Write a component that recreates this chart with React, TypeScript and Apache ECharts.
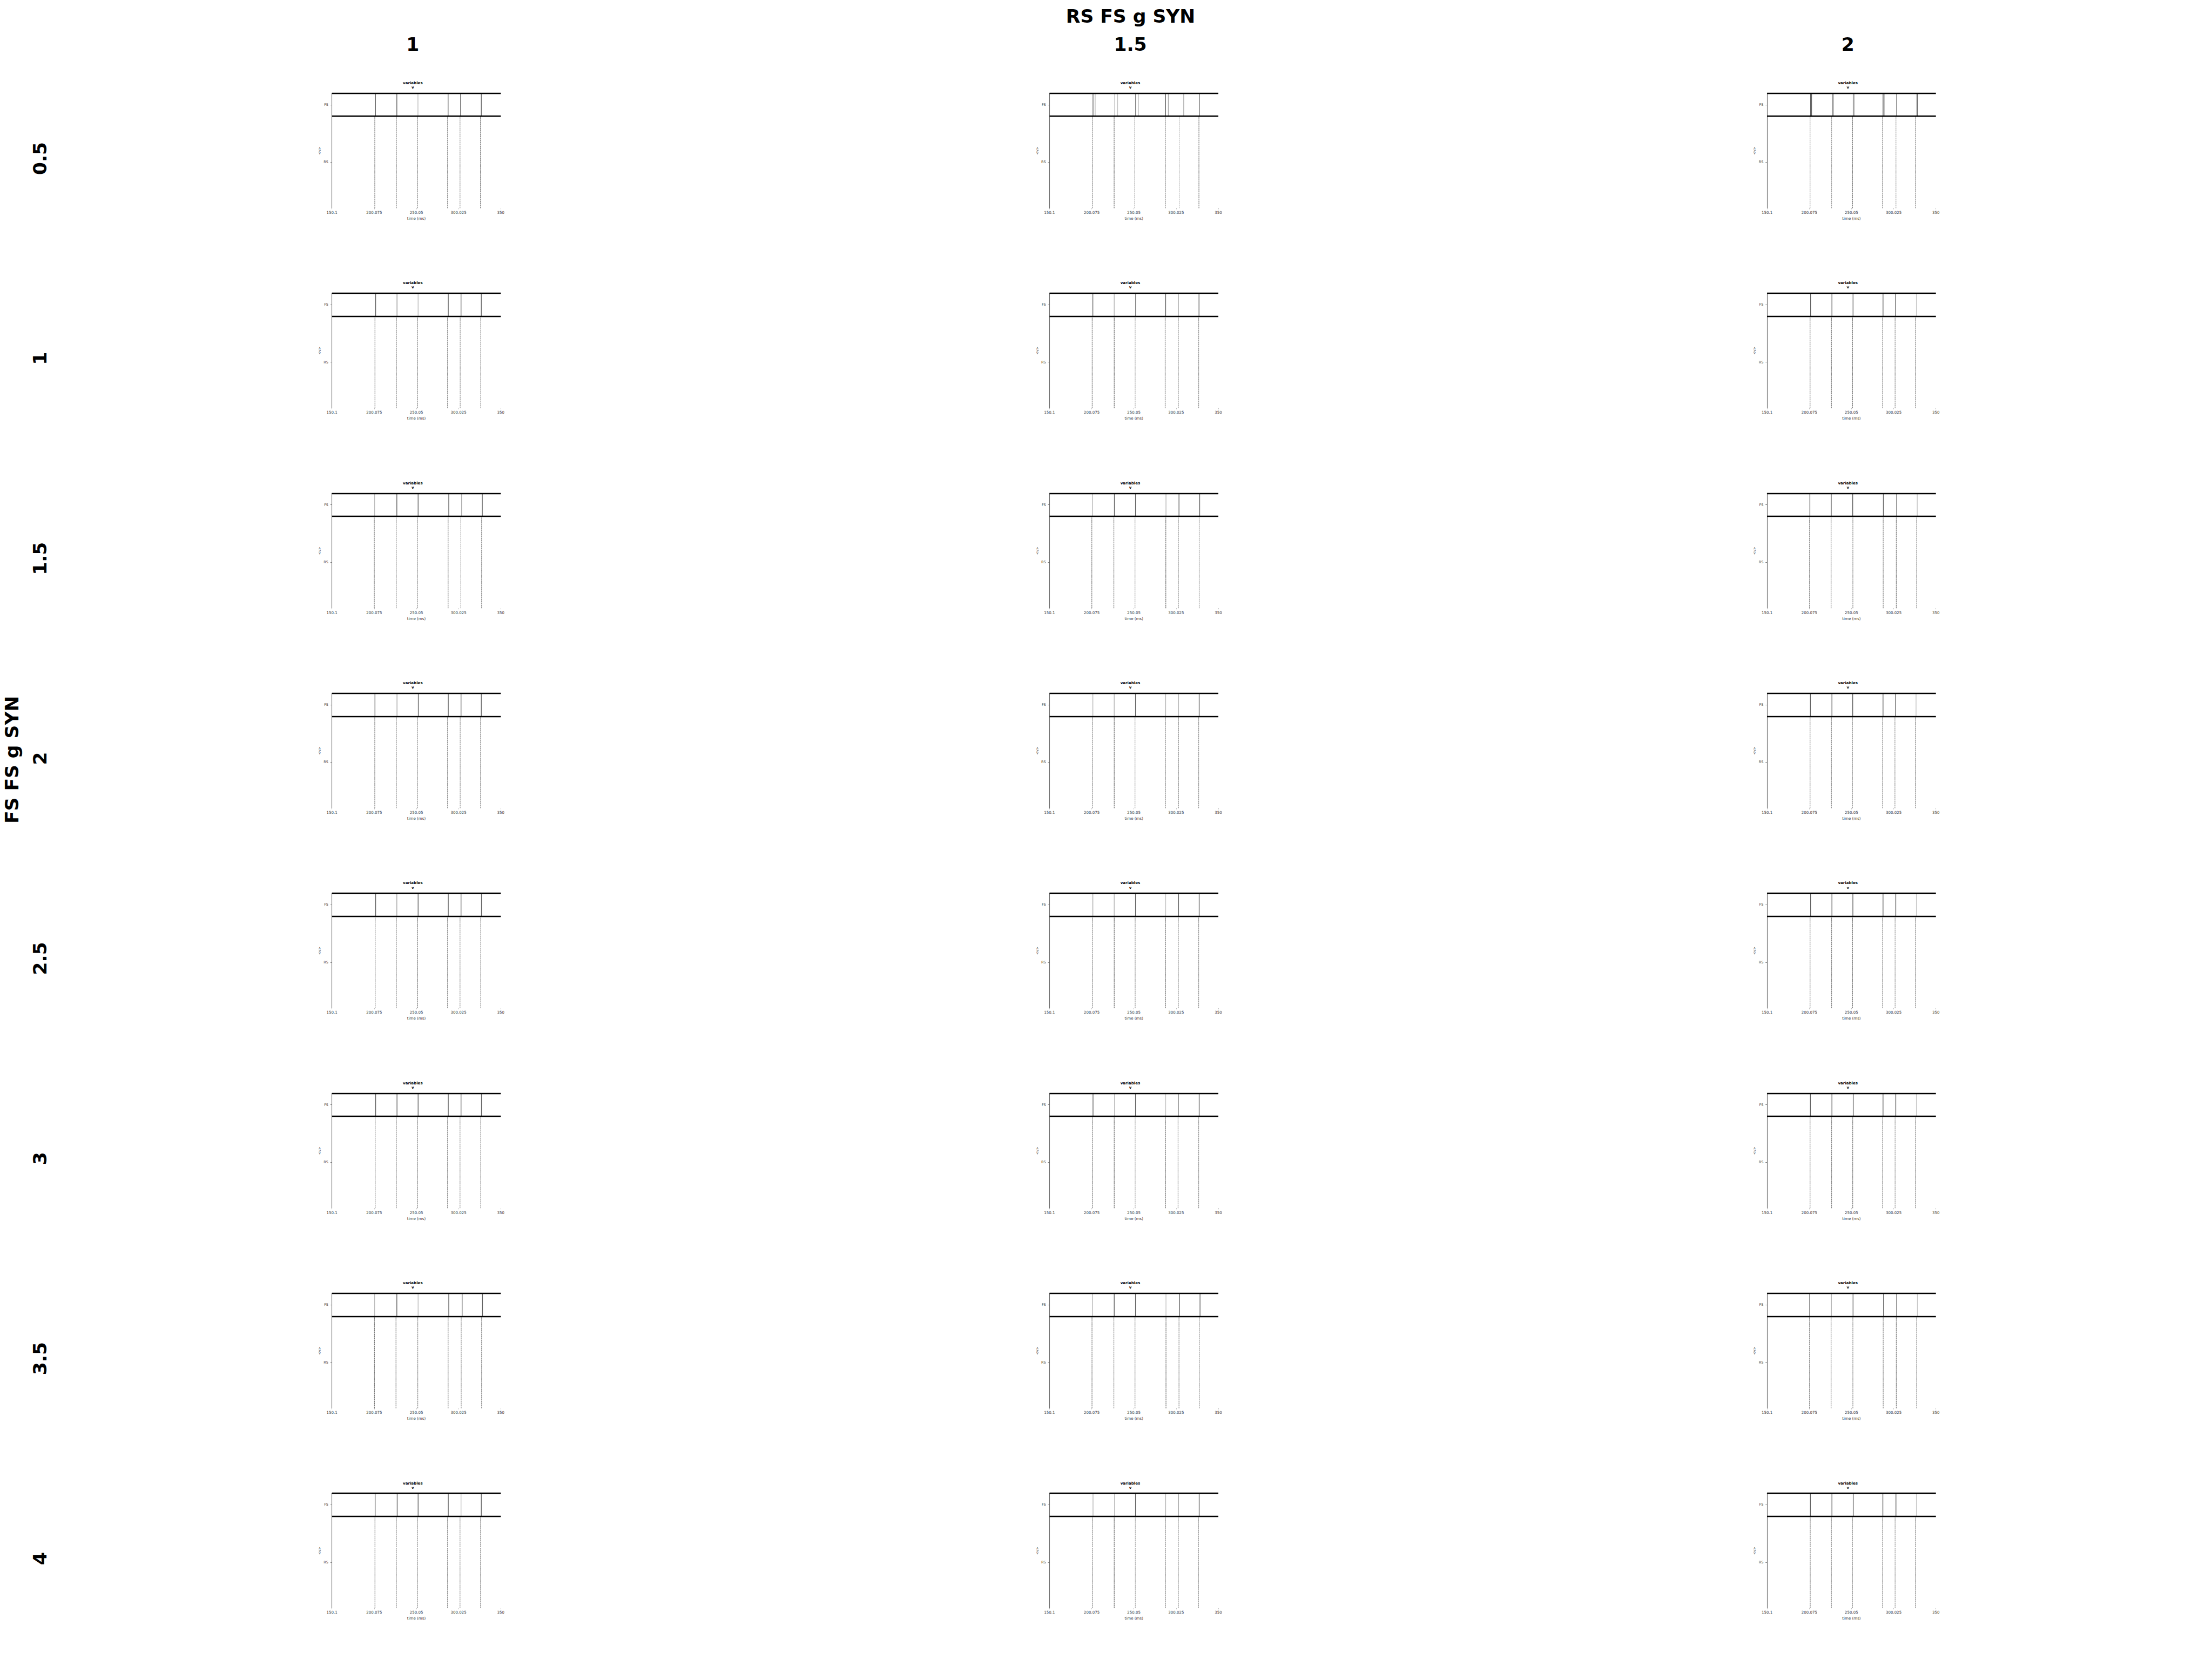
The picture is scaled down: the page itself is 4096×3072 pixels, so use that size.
import React, { useEffect, useRef } from "react";
import * as echarts from "echarts";

const S = 0.959;
const W = 4096;
const H = 3072;

const mainTitle = "RS FS g SYN";
const rowTitle = "FS FS g SYN";
const colHeaders = ["1", "1.5", "2"];
const rowHeaders = ["0.5", "1", "1.5", "2", "2.5", "3", "3.5", "4"];
const xTicks = [150.1, 200.075, 250.05, 300.025, 350];
const yTickValues = [40, 90];
const yTickNames = ["RS", "FS"];
const bandRS = [0, 80];
const bandFS = [80, 100];

// [spike time (ms), fraction of population firing]
const fsCol1 = [
  [[201.6, 1], [226.9, 1], [251.9, 0.35], [287.6, 1], [302.4, 1], [326.9, 1]],
  [[201.8, 1], [227.1, 0.6], [252.1, 0.35], [287.8, 1], [302.9, 1], [326.9, 1]],
  [[200.6, 0.35], [226.9, 1], [252.1, 1], [288.4, 1], [303.6, 0.5], [328.1, 1]],
  [[201.0, 1], [227.1, 0.5], [252.3, 1], [287.8, 1], [302.9, 1], [326.9, 1]],
  [[201.8, 1], [226.9, 0.5], [252.1, 1], [287.8, 1], [302.9, 1], [327.1, 1]],
  [[201.8, 1], [227.1, 1], [252.1, 1], [287.8, 1], [302.9, 1], [327.1, 1]],
  [[200.6, 0.35], [226.9, 1], [252.1, 0.35], [288.4, 1], [304.2, 1], [328.3, 1]],
  [[201.2, 1], [227.3, 1], [252.1, 1], [287.8, 1], [302.9, 0.35], [326.9, 1]],
];
const rsCol1 = [
  [[200.8, 0.8], [226.3, 0.8], [251.3, 0.8], [287.0, 0.8], [301.7, 0.6], [325.9, 0.8]],
  [[201.0, 0.8], [226.3, 0.8], [251.3, 0.8], [287.0, 0.8], [301.9, 0.6], [326.3, 0.8]],
  [[200.2, 0.8], [226.1, 0.8], [251.5, 0.6], [287.6, 0.8], [302.7, 0.6], [327.3, 0.8]],
  [[200.8, 0.8], [226.3, 0.7], [251.5, 0.6], [287.0, 0.8], [301.9, 0.6], [326.1, 0.8]],
  [[201.2, 0.8], [226.3, 0.7], [251.5, 0.8], [287.0, 0.8], [301.7, 0.6], [326.3, 0.8]],
  [[201.2, 0.8], [226.3, 0.7], [251.3, 0.8], [287.0, 0.8], [301.7, 0.6], [326.3, 0.8]],
  [[200.4, 0.8], [225.9, 0.8], [251.7, 0.7], [287.6, 0.8], [303.1, 0.6], [327.3, 0.8]],
  [[201.0, 0.8], [226.3, 0.7], [251.1, 0.8], [287.0, 0.8], [301.7, 0.6], [326.1, 0.8]],
];
const fsCol2 = [
  [[201.6, 1], [204.1, 0.4], [227.2, 0.3], [230.7, 0.3], [252.1, 1], [255.2, 0.4], [287.5, 1], [290.8, 0.5], [309.0, 0.5], [327.4, 1]],
  [[201.4, 1], [226.7, 0.4], [252.1, 1], [287.6, 1], [302.7, 0.5], [327.1, 1]],
  [[200.8, 0.4], [226.9, 1], [251.9, 1], [288.0, 0.4], [303.4, 1], [327.9, 1]],
  [[201.4, 0.4], [226.7, 0.4], [251.9, 1], [287.6, 0.4], [302.9, 0.4], [327.3, 1]],
  [[201.4, 0.5], [226.7, 0.4], [251.9, 1], [287.6, 0.3], [302.9, 1], [327.3, 1]],
  [[201.6, 1], [227.1, 0.4], [251.9, 1], [287.6, 0.3], [302.5, 1], [327.3, 1]],
  [[200.8, 0.4], [226.7, 1], [251.9, 1], [288.0, 0.3], [304.0, 1], [328.3, 1]],
  [[201.6, 0.4], [227.1, 0.4], [251.9, 1], [287.6, 0.4], [302.9, 0.5], [327.3, 1]],
];
const rsCol2 = [
  [[201.0, 0.7], [226.6, 0.9], [251.1, 0.6], [287.1, 0.9], [303.9, 0.25], [327.0, 0.8]],
  [[200.6, 0.8], [226.7, 0.9], [251.5, 0.4], [287.0, 0.9], [302.5, 0.8], [326.7, 0.6]],
  [[200.2, 0.8], [226.3, 0.8], [251.3, 0.5], [287.8, 0.9], [302.7, 0.6], [327.3, 0.6]],
  [[201.0, 0.7], [226.7, 0.9], [251.3, 0.5], [287.2, 0.9], [302.7, 0.8], [326.7, 0.6]],
  [[201.0, 0.7], [226.7, 0.9], [251.5, 0.6], [287.4, 0.9], [302.5, 0.8], [326.7, 0.6]],
  [[201.2, 0.8], [226.7, 0.9], [251.5, 0.4], [287.4, 0.9], [302.3, 0.7], [326.7, 0.6]],
  [[200.4, 0.8], [226.3, 0.7], [251.3, 0.7], [288.0, 0.9], [303.4, 0.7], [327.5, 0.6]],
  [[201.2, 0.7], [226.7, 0.9], [251.7, 0.4], [287.2, 0.9], [302.5, 0.8], [326.5, 0.6]],
];
const fsCol3 = [
  [[201.6, 1], [202.8, 1], [227.3, 1], [228.6, 0.6], [252.1, 1], [253.3, 0.4], [287.4, 1], [288.6, 1], [303.6, 1], [326.9, 0.3], [328.1, 1]],
  [[201.6, 1], [226.9, 1], [251.9, 1], [287.4, 1], [302.3, 1], [326.9, 0.3]],
  [[200.8, 1], [226.1, 1], [251.5, 1], [287.8, 1], [303.6, 1], [327.9, 0.3]],
  [[201.4, 1], [226.9, 1], [251.5, 1], [287.4, 1], [302.3, 1], [326.5, 0.3]],
  [[201.6, 1], [226.9, 1], [251.7, 1], [287.4, 1], [302.5, 1], [326.9, 0.3]],
  [[201.4, 1], [226.9, 1], [252.1, 1], [287.4, 1], [302.5, 1], [326.9, 0.3]],
  [[200.6, 1], [226.3, 0.4], [251.9, 1], [288.0, 1], [303.6, 1], [328.1, 0.3]],
  [[201.4, 1], [226.9, 1], [252.1, 1], [287.2, 1], [302.7, 1], [326.9, 0.3]],
];
const rsCol3 = [
  [[201.0, 0.5], [226.5, 0.5], [251.3, 0.8], [287.0, 0.9], [302.7, 0.5], [326.1, 0.8]],
  [[201.0, 0.8], [226.3, 0.8], [251.3, 0.8], [287.0, 0.8], [301.7, 0.7], [326.1, 0.8]],
  [[200.4, 0.8], [225.9, 0.8], [251.7, 0.7], [287.6, 0.7], [303.1, 0.8], [327.3, 0.8]],
  [[201.0, 0.7], [226.3, 0.7], [251.1, 0.8], [287.0, 0.8], [301.5, 0.6], [325.9, 0.8]],
  [[201.0, 0.7], [226.5, 0.7], [251.3, 0.8], [287.0, 0.8], [301.7, 0.6], [326.1, 0.8]],
  [[201.0, 0.7], [226.5, 0.7], [251.5, 0.8], [287.0, 0.8], [301.7, 0.6], [326.1, 0.8]],
  [[200.4, 0.8], [225.9, 0.8], [251.7, 0.7], [287.6, 0.7], [303.1, 0.8], [327.3, 0.8]],
  [[201.2, 0.7], [226.3, 0.6], [251.1, 0.8], [287.0, 0.8], [301.7, 0.6], [326.1, 0.8]],
];

const fsCols = [fsCol1, fsCol2, fsCol3];
const rsCols = [rsCol1, rsCol2, rsCol3];

// layout in reference pixels
const PANEL_LEFT0 = 641;
const COL_STEP = 1385.5;
const PANEL_TOP0 = 180;
const ROW_STEP = 386.2;
const PW = 326;
const PH = 222;
const HEADER_DX = -7;

const FONT = "DejaVu Sans";

function grayFor(d: number, base: number, span: number) {
  const g = Math.round(base - d * span);
  const v = Math.max(0, Math.min(255, g));
  return `rgb(${v},${v},${v})`;
}

function buildOption() {
  const grids: any[] = [];
  const xAxes: any[] = [];
  const yAxes: any[] = [];
  const series: any[] = [];
  const graphics: any[] = [];

  const bigText = (text: string, x: number, y: number, rot?: number) => ({
    type: "text",
    x: x * S,
    y: y * S,
    rotation: rot ?? 0,
    style: {
      text,
      fontSize: 36 * S,
      fontWeight: "bold",
      fontFamily: FONT,
      fill: "#000",
      align: "center",
      verticalAlign: "middle",
    },
  });

  graphics.push(bigText(mainTitle, 2183, 31));
  graphics.push(bigText(rowTitle, 23, 1467, Math.PI / 2));
  colHeaders.forEach((h, c) => {
    graphics.push(bigText(h, PANEL_LEFT0 + PW / 2 + HEADER_DX + c * COL_STEP, 86));
  });
  rowHeaders.forEach((h, r) => {
    graphics.push(bigText(h, 77, PANEL_TOP0 + r * ROW_STEP + PH / 2 + 15, Math.PI / 2));
  });

  for (let r = 0; r < rowHeaders.length; r++) {
    for (let c = 0; c < colHeaders.length; c++) {
      const idx = grids.length;
      const left = PANEL_LEFT0 + c * COL_STEP;
      const top = PANEL_TOP0 + r * ROW_STEP;
      grids.push({
        left: left * S,
        top: top * S,
        width: PW * S,
        height: PH * S,
        containLabel: false,
      });
      xAxes.push({
        type: "value",
        gridIndex: idx,
        min: xTicks[0],
        max: xTicks[xTicks.length - 1],
        axisLine: { show: false },
        axisTick: {
          show: true,
          customValues: xTicks,
          length: 2 * S,
          lineStyle: { color: "#bbb", width: 1 },
        },
        axisLabel: {
          customValues: xTicks,
          formatter: (v: number) => String(v),
          fontSize: 7.4 * S,
          fontFamily: FONT,
          color: "#444",
          margin: 4.5 * S,
          showMinLabel: true,
          showMaxLabel: true,
        },
        splitLine: { show: false },
        name: "time (ms)",
        nameLocation: "middle",
        nameGap: 16 * S,
        nameTextStyle: { fontSize: 7.4 * S, fontFamily: FONT, color: "#333" },
      });
      yAxes.push({
        type: "value",
        gridIndex: idx,
        min: bandRS[0],
        max: bandFS[1],
        axisLine: { show: true, lineStyle: { color: "#666", width: 1.1 } },
        axisTick: {
          show: true,
          customValues: yTickValues,
          length: 3 * S,
          lineStyle: { color: "#777", width: 1 },
        },
        axisLabel: {
          customValues: yTickValues,
          formatter: (v: number) => yTickNames[yTickValues.indexOf(v)] ?? "",
          fontSize: 6.8 * S,
          fontFamily: FONT,
          color: "#444",
          margin: 7 * S,
        },
        splitLine: { show: false },
        name: "<v>",
        nameLocation: "middle",
        nameGap: 14 * S,
        nameRotate: 90,
        nameTextStyle: { fontSize: 6.8 * S, fontFamily: FONT, color: "#333" },
      });

      const fs = fsCols[c][r];
      const rs = rsCols[c][r];
      const data: any[] = [];
      fs.forEach(([t, d]) => data.push([t, bandFS[0], bandFS[1], d, 0]));
      rs.forEach(([t, d]) => data.push([t, bandRS[0], bandFS[0], d, 1]));

      series.push({
        type: "custom",
        xAxisIndex: idx,
        yAxisIndex: idx,
        silent: true,
        encode: { x: 0, y: [1, 2] },
        data,
        renderItem: (params: any, api: any) => {
          const t = api.value(0);
          const lo = api.value(1);
          const hi = api.value(2);
          const d = api.value(3);
          const kind = api.value(4);
          const p0 = api.coord([t, lo]);
          const p1 = api.coord([t, hi]);
          const isFS = kind === 0;
          return {
            type: "line",
            shape: { x1: p0[0], y1: p0[1], x2: p1[0], y2: p1[1] },
            style: {
              stroke: isFS ? grayFor(d, 235, 140) : grayFor(d, 225, 135),
              lineWidth: (isFS ? 1.4 : 1.2) * S,
              lineDash: isFS ? null : [3 * S, 0.8 * S],
            },
          };
        },
        markLine: {
          silent: true,
          symbol: "none",
          label: { show: false },
          lineStyle: { color: "#000", width: 2.6 * S, type: "solid" },
          data: [{ yAxis: bandFS[0] }, { yAxis: bandFS[1] }],
        },
        z: 2,
      });

      const cx = (left + PW / 2 + HEADER_DX) * S;
      const smallTitle = (text: string, y: number) => ({
        type: "text",
        x: cx,
        y: y * S,
        style: {
          text,
          fontSize: 7.4 * S,
          fontWeight: "bold",
          fontFamily: FONT,
          fill: "#000",
          align: "center",
          verticalAlign: "middle",
        },
      });
      graphics.push(smallTitle("variables", top - 20));
      graphics.push(smallTitle("v", top - 11.5));
    }
  }

  return {
    animation: false,
    backgroundColor: "#fff",
    grid: grids,
    xAxis: xAxes,
    yAxis: yAxes,
    series,
    graphic: graphics,
  };
}

export default function App() {
  const ref = useRef<HTMLDivElement>(null);
  useEffect(() => {
    document.body.style.margin = "0";
    if (!ref.current) return;
    const chart = echarts.init(ref.current, undefined, { renderer: "svg", width: W, height: H });
    chart.setOption(buildOption() as any);
    return () => {
      chart.dispose();
    };
  }, []);
  return <div ref={ref} style={{ position: "absolute", left: 0, top: 0, width: W, height: H }} />;
}
